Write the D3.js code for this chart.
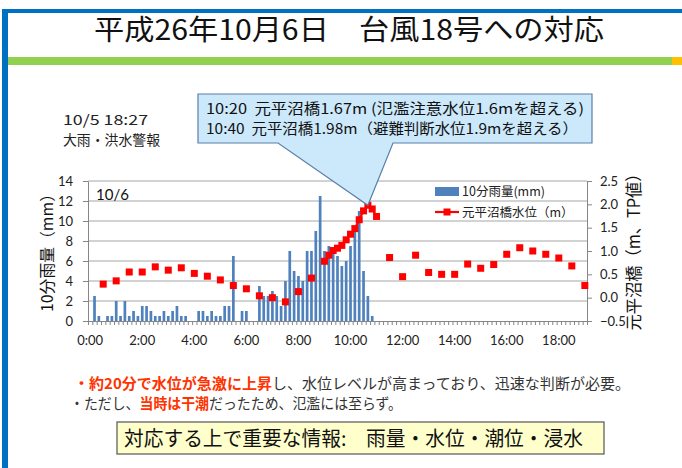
<!DOCTYPE html>
<html>
<head>
<meta charset="utf-8">
<script src="https://cdn.jsdelivr.net/npm/d3@7"></script>
<style>
  body { margin: 0; background: #fff; }
  svg text { font-family: "Noto Sans CJK JP", "Noto Sans", sans-serif; }
  .num { font-family: Lato, "Noto Sans", sans-serif; }
</style>
</head>
<body>
<div id="chart"></div>
<script>
// 10-minute categories, 0:00 .. 19:00
const times = d3.range(0, 115).map(i => `${Math.floor(i / 6)}:${String((i % 6) * 10).padStart(2, "0")}`);
const xLabels = ["0:00", "2:00", "4:00", "6:00", "8:00", "10:00", "12:00", "14:00", "16:00", "18:00"];

// 10分雨量 (mm), 0:00 .. 10:50
const rain = [
  0, 2.5, 0.5, 0, 0.5, 0.5, 2.0, 0.5, 2.0, 0.5, 1.0, 0.5,
  1.5, 1.5, 1.0, 0.5, 0.5, 1.0, 0.5, 1.0, 1.5, 0.5, 0.5, 0,
  0, 1.0, 1.0, 0.5, 1.0, 0.5, 0.5, 1.5, 1.5, 6.5, 0, 1.0,
  1.0, 0, 0, 3.5, 2.5, 2.5, 3.0, 2.5, 1.5, 4.0, 7.0, 5.0,
  4.5, 4.0, 7.0, 7.0, 9.0, 12.5, 7.0, 7.5, 7.0, 6.5, 5.5, 6.0,
  7.5, 9.0, 11.0, 5.0, 2.5, 0.5
];

// 元平沼橋水位 (m)
const levelTimes = [
  "0:30", "1:00", "1:30", "2:00", "2:30", "3:00", "3:30", "4:00", "4:30", "5:00",
  "5:30", "6:00", "6:30", "7:00", "7:30", "8:00", "8:30",
  "9:00", "9:10", "9:20", "9:30", "9:40", "9:50", "10:00", "10:10", "10:20", "10:30", "10:40", "10:50", "11:00",
  "11:30", "12:00", "12:30", "13:00", "13:30", "14:00", "14:30", "15:00", "15:30", "16:00",
  "16:30", "17:00", "17:30", "18:00", "18:30", "19:00"
];
const levelValues = [
  0.29, 0.36, 0.55, 0.55, 0.66, 0.59, 0.64, 0.52, 0.46, 0.38,
  0.26, 0.19, 0.04, 0.0, -0.09, 0.13, 0.42,
  0.78, 0.91, 1.01, 1.06, 1.12, 1.24, 1.36, 1.48, 1.67, 1.86, 1.98, 1.90, 1.74,
  0.86, 0.45, 0.91, 0.54, 0.50, 0.50, 0.72, 0.63, 0.71, 0.93,
  1.07, 1.00, 0.93, 0.85, 0.68, 0.26
];

const leftTicks = [0, 2, 4, 6, 8, 10, 12, 14];
const rightTicks = [-0.5, 0, 0.5, 1, 1.5, 2, 2.5];

// Chart dimensions and margins
const W = 682, H = 468;
const margin = { top: 181, left: 88 };
const width = 499;
const height = 140;

const svg = d3.select("#chart")
  .append("svg")
  .attr("width", W)
  .attr("height", H);

// Slide frame
svg.append("rect").attr("x", 2).attr("y", 9).attr("width", W - 2).attr("height", 4).attr("fill", "#0070c0");
svg.append("rect").attr("x", 2).attr("y", 9).attr("width", 6).attr("height", H - 9).attr("fill", "#0070c0");
svg.append("rect").attr("x", 8).attr("y", 57).attr("width", 664).attr("height", 8).attr("fill", "#92d050");
svg.append("rect").attr("x", 672).attr("y", 57).attr("width", 10).attr("height", 8).attr("fill", "#ffc000");

svg.append("text")
  .attr("x", 349).attr("y", 40)
  .attr("text-anchor", "middle")
  .attr("font-size", 28)
  .attr("textLength", 510)
  .attr("lengthAdjust", "spacingAndGlyphs")
  .attr("fill", "#111")
  .text("平成26年10月6日　台風18号への対応");

const g = svg.append("g")
  .attr("transform", `translate(${margin.left},${margin.top})`);

// Scales
const x = d3.scaleBand().domain(times).range([0, width]).paddingInner(0.38).paddingOuter(0.19);
const xCat = d3.scaleBand().domain(times).range([0, width]);
const xEdge = d3.scaleLinear().domain([0, times.length]).range([0, width]);
const yL = d3.scaleLinear().domain([0, 14]).range([height, 0]);
const yR = d3.scaleLinear().domain([-0.5, 2.5]).range([height, 0]);

// Gridlines
g.selectAll(".grid")
  .data(leftTicks.slice(1))
  .enter()
  .append("line")
  .attr("x1", 0).attr("x2", width)
  .attr("y1", d => yL(d)).attr("y2", d => yL(d))
  .attr("stroke", "#a6a6a6")
  .attr("stroke-width", 1);

// Bars
g.selectAll(".bar")
  .data(rain.map((v, i) => ({ t: times[i], v })).filter(d => d.v > 0))
  .enter()
  .append("rect")
  .attr("x", d => x(d.t))
  .attr("y", d => yL(d.v))
  .attr("width", x.bandwidth())
  .attr("height", d => height - yL(d.v))
  .attr("fill", "#4f81bd");

// Axes
const axisColor = "#868686";
const yAxisL = g.append("g")
  .call(d3.axisLeft(yL).tickValues(leftTicks).tickSizeInner(5).tickSizeOuter(0).tickPadding(10));
const yAxisR = g.append("g")
  .attr("transform", `translate(${width},0)`)
  .call(d3.axisRight(yR).tickValues(rightTicks).tickSizeInner(5).tickSizeOuter(0).tickPadding(8));
const xMinor = g.append("g")
  .attr("transform", `translate(0,${height})`)
  .call(d3.axisBottom(xEdge).tickValues(d3.range(0, times.length + 1)).tickSize(4).tickFormat(""));
const xAxis = g.append("g")
  .attr("transform", `translate(0,${height})`)
  .call(d3.axisBottom(xCat).tickValues(xLabels).tickSize(0).tickPadding(15));

[yAxisL, yAxisR, xMinor, xAxis].forEach(a => {
  a.select(".domain").attr("stroke", axisColor);
  a.selectAll(".tick line").attr("stroke", axisColor);
  a.selectAll("text")
    .attr("class", "num")
    .attr("font-size", 13)
    .attr("fill", "#222");
});

// Water level line (only between consecutive 10-min readings) and markers
const levelMap = new Map(levelTimes.map((t, i) => [t, levelValues[i]]));
const line = d3.line()
  .defined(t => levelMap.has(t))
  .x(t => xCat(t) + xCat.bandwidth() / 2)
  .y(t => yR(levelMap.get(t)));
g.append("path")
  .datum(times)
  .attr("d", line)
  .attr("fill", "none")
  .attr("stroke", "#ff0000")
  .attr("stroke-width", 2.2);

const mk = 7;
g.selectAll(".marker")
  .data(levelTimes)
  .enter()
  .append("rect")
  .attr("x", t => xCat(t) + xCat.bandwidth() / 2 - mk / 2)
  .attr("y", t => yR(levelMap.get(t)) - mk / 2)
  .attr("width", mk)
  .attr("height", mk)
  .attr("fill", "#ff0000");

// In-plot labels
g.append("text")
  .attr("class", "num")
  .attr("x", 8).attr("y", 19)
  .attr("font-size", 15)
  .attr("fill", "#111")
  .text("10/6");

// Legend
const legend = g.append("g").attr("transform", `translate(${width - 152},0)`);
legend.append("rect").attr("x", 0).attr("y", 6).attr("width", 24).attr("height", 9).attr("fill", "#4f81bd");
legend.append("text").attr("x", 27).attr("y", 15).attr("font-size", 12.5).attr("fill", "#222").text("10分雨量(mm)");
legend.append("line").attr("x1", 0).attr("x2", 24).attr("y1", 31).attr("y2", 31).attr("stroke", "#ff0000").attr("stroke-width", 2.2);
legend.append("rect").attr("x", 12 - mk / 2).attr("y", 31 - mk / 2).attr("width", mk).attr("height", mk).attr("fill", "#ff0000");
legend.append("text").attr("x", 27).attr("y", 36).attr("font-size", 12.5).attr("fill", "#222").text("元平沼橋水位（m）");

// Axis titles
svg.append("text")
  .attr("transform", `translate(53,${margin.top + height / 2 - 2}) rotate(-90)`)
  .attr("text-anchor", "middle")
  .attr("font-size", 16)
  .attr("textLength", 126)
  .attr("lengthAdjust", "spacingAndGlyphs")
  .attr("fill", "#111")
  .text("10分雨量（mm）");

svg.append("text")
  .attr("transform", `translate(640,${margin.top + height / 2 - 3}) rotate(-90)`)
  .attr("text-anchor", "middle")
  .attr("font-size", 17)
  .attr("textLength", 165)
  .attr("lengthAdjust", "spacingAndGlyphs")
  .attr("fill", "#111")
  .text("元平沼橋（m、TP値）");

// Warning note
svg.append("text").attr("x", 63).attr("y", 125).attr("font-size", 14)
  .attr("textLength", 85).attr("lengthAdjust", "spacingAndGlyphs")
  .attr("fill", "#222").text("10/5 18:27");
svg.append("text").attr("x", 63).attr("y", 145).attr("font-size", 14)
  .attr("textLength", 97).attr("lengthAdjust", "spacingAndGlyphs")
  .attr("fill", "#222").text("大雨・洪水警報");

// Callout pointing to the 10:40 reading
const tipX = margin.left + xCat("10:40") + xCat.bandwidth() / 2;
const tipY = margin.top + yR(levelMap.get("10:40"));
const callout = [[198, 94], [592, 94], [592, 143], [393, 143], [tipX, tipY], [278, 143], [198, 143]];
svg.append("path")
  .attr("d", d3.line()(callout) + "Z")
  .attr("fill", "#cce8fb")
  .attr("stroke", "#5a7fa8")
  .attr("stroke-width", 1.2);
svg.append("text").attr("x", 206).attr("y", 114).attr("font-size", 14.5)
  .attr("textLength", 378).attr("lengthAdjust", "spacingAndGlyphs")
  .attr("fill", "#111")
  .text("10:20\u00a0\u00a0元平沼橋1.67m (氾濫注意水位1.6mを超える)");
svg.append("text").attr("x", 206).attr("y", 134).attr("font-size", 14.5)
  .attr("textLength", 372).attr("lengthAdjust", "spacingAndGlyphs")
  .attr("fill", "#111")
  .text("10:40\u00a0\u00a0元平沼橋1.98m（避難判断水位1.9mを超える）");

// Notes below the chart
const note1 = svg.append("text").attr("x", 74).attr("y", 389).attr("font-size", 15)
  .attr("textLength", 556).attr("lengthAdjust", "spacingAndGlyphs");
note1.append("tspan").attr("fill", "#ff3300").attr("font-weight", "bold").text("・約20分で水位が急激に上昇");
note1.append("tspan").attr("fill", "#333").text("し、水位レベルが高まっており、迅速な判断が必要。");

const note2 = svg.append("text").attr("x", 70).attr("y", 409).attr("font-size", 15)
  .attr("textLength", 332).attr("lengthAdjust", "spacingAndGlyphs");
note2.append("tspan").attr("fill", "#333").text("・ただし、");
note2.append("tspan").attr("fill", "#ff3300").attr("font-weight", "bold").text("当時は干潮");
note2.append("tspan").attr("fill", "#333").text("だったため、氾濫には至らず。");

svg.append("rect")
  .attr("x", 117).attr("y", 422).attr("width", 487).attr("height", 32)
  .attr("fill", "#ffffcc")
  .attr("stroke", "#555")
  .attr("stroke-width", 1.2);
svg.append("text").attr("x", 124).attr("y", 446).attr("font-size", 20)
  .attr("textLength", 459).attr("lengthAdjust", "spacingAndGlyphs")
  .attr("fill", "#111")
  .text("対応する上で重要な情報:　雨量・水位・潮位・浸水");
</script>
</body>
</html>
